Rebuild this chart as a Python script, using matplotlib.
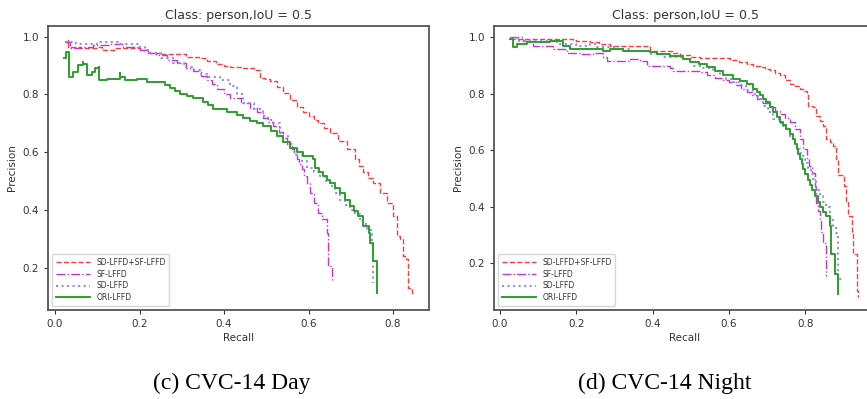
import matplotlib
matplotlib.use("Agg")
import matplotlib.pyplot as plt

# ---------------- Data: CVC-14 Day ----------------
day_both_r = [0.024, 0.03, 0.03, 0.035, 0.06, 0.10, 0.11, 0.14, 0.20, 0.22, 0.25, 0.28, 0.31, 0.34, 0.36, 0.38,
              0.40, 0.414, 0.446, 0.47, 0.485, 0.497, 0.509, 0.525, 0.54, 0.556, 0.572, 0.586, 0.60, 0.612,
              0.623, 0.637, 0.651, 0.67, 0.69, 0.71, 0.72, 0.729, 0.741, 0.753, 0.77, 0.785, 0.80, 0.809,
              0.816, 0.824, 0.83, 0.835, 0.844]
day_both_p = [0.98, 0.99, 0.965, 0.965, 0.96, 0.965, 0.955, 0.96, 0.955, 0.945, 0.94, 0.94, 0.93, 0.925, 0.915, 0.905,
              0.90, 0.895, 0.89, 0.885, 0.858, 0.852, 0.846, 0.826, 0.806, 0.782, 0.757, 0.74, 0.725, 0.712,
              0.70, 0.684, 0.667, 0.64, 0.61, 0.575, 0.552, 0.53, 0.51, 0.494, 0.46, 0.424, 0.38, 0.31,
              0.30, 0.24, 0.23, 0.13, 0.11]

day_sf_r = [0.024, 0.035, 0.06, 0.09, 0.13, 0.16, 0.20, 0.22, 0.24, 0.265, 0.288, 0.31, 0.327, 0.345, 0.36,
            0.372, 0.383, 0.40, 0.414, 0.44, 0.462, 0.478, 0.493, 0.505, 0.517, 0.53, 0.54, 0.55, 0.56, 0.566,
            0.572, 0.578, 0.584, 0.59, 0.596, 0.604, 0.614, 0.623, 0.631, 0.643, 0.647, 0.655]
day_sf_p = [0.98, 0.96, 0.965, 0.97, 0.975, 0.965, 0.955, 0.945, 0.935, 0.92, 0.908, 0.893, 0.88, 0.865, 0.85,
            0.835, 0.82, 0.80, 0.788, 0.77, 0.754, 0.738, 0.72, 0.705, 0.69, 0.67, 0.65, 0.63, 0.61, 0.592,
            0.575, 0.558, 0.54, 0.517, 0.494, 0.459, 0.425, 0.39, 0.37, 0.32, 0.205, 0.158]

day_sd_r = [0.024, 0.05, 0.10, 0.15, 0.20, 0.213, 0.225, 0.25, 0.28, 0.305, 0.327, 0.345, 0.36, 0.39, 0.414,
            0.43, 0.446, 0.47, 0.493, 0.505, 0.517, 0.533, 0.552, 0.562, 0.572, 0.584, 0.596, 0.612, 0.627,
            0.64, 0.651, 0.663, 0.675, 0.687, 0.698, 0.71, 0.722, 0.73, 0.738, 0.75, 0.753]
day_sd_p = [0.98, 0.975, 0.98, 0.975, 0.965, 0.955, 0.942, 0.925, 0.908, 0.895, 0.885, 0.872, 0.86, 0.85, 0.83,
            0.80, 0.77, 0.75, 0.725, 0.712, 0.70, 0.656, 0.63, 0.61, 0.59, 0.568, 0.545, 0.53, 0.517,
            0.50, 0.482, 0.46, 0.436, 0.418, 0.40, 0.385, 0.37, 0.35, 0.332, 0.29, 0.147]

day_ori_r = [0.022, 0.025, 0.03, 0.034, 0.034, 0.043, 0.055, 0.067, 0.067, 0.075, 0.087, 0.095, 0.105, 0.105,
             0.122, 0.142, 0.154, 0.154, 0.166, 0.193, 0.217, 0.248, 0.26, 0.272, 0.284, 0.296, 0.312, 0.327,
             0.351, 0.363, 0.375, 0.406, 0.43, 0.446, 0.462, 0.478, 0.493, 0.51, 0.525, 0.54, 0.556, 0.572,
             0.588, 0.611, 0.615, 0.625, 0.635, 0.643, 0.651, 0.663, 0.675, 0.687, 0.698, 0.708, 0.718,
             0.73, 0.742, 0.746, 0.753, 0.761, 0.761]
day_ori_p = [0.925, 0.948, 0.948, 0.948, 0.861, 0.879, 0.902, 0.913, 0.905, 0.867, 0.879, 0.89, 0.896, 0.85,
             0.855, 0.855, 0.873, 0.862, 0.85, 0.855, 0.844, 0.844, 0.832, 0.821, 0.812, 0.803, 0.795, 0.786,
             0.775, 0.763, 0.751, 0.74, 0.728, 0.718, 0.708, 0.70, 0.69, 0.673, 0.656, 0.635, 0.615, 0.60,
             0.586, 0.575, 0.545, 0.53, 0.517, 0.505, 0.494, 0.476, 0.459, 0.436, 0.413, 0.395, 0.378,
             0.343, 0.32, 0.285, 0.222, 0.222, 0.112]

# ---------------- Data: CVC-14 Night ----------------
night_both_r = [0.026, 0.19, 0.20, 0.236, 0.26, 0.288, 0.384, 0.393, 0.43, 0.454, 0.471, 0.50, 0.524, 0.55,
                0.576, 0.602, 0.625, 0.646, 0.663, 0.68, 0.694, 0.707, 0.72, 0.733, 0.746, 0.76, 0.772, 0.785,
                0.795, 0.803, 0.807, 0.82, 0.829, 0.838, 0.846, 0.855, 0.864, 0.872, 0.881, 0.886, 0.90,
                0.906, 0.912, 0.921, 0.925, 0.934, 0.938]
night_both_p = [0.994, 0.99, 0.988, 0.982, 0.976, 0.97, 0.97, 0.952, 0.95, 0.946, 0.937, 0.932, 0.925, 0.925,
                0.925, 0.92, 0.914, 0.907, 0.90, 0.895, 0.889, 0.883, 0.874, 0.865, 0.85, 0.836, 0.827, 0.818,
                0.81, 0.80, 0.758, 0.752, 0.722, 0.705, 0.687, 0.64, 0.628, 0.616, 0.568, 0.514, 0.473,
                0.42, 0.366, 0.306, 0.234, 0.10, 0.08]

night_sf_r = [0.026, 0.061, 0.087, 0.14, 0.175, 0.209, 0.244, 0.27, 0.279, 0.34, 0.366, 0.384, 0.445,
              0.454, 0.524, 0.541, 0.562, 0.584, 0.60, 0.619, 0.632, 0.646, 0.66, 0.672, 0.69, 0.707, 0.72,
              0.733, 0.746, 0.759, 0.772, 0.785, 0.794, 0.803, 0.81, 0.816, 0.825, 0.829, 0.834, 0.838,
              0.842, 0.846, 0.855]
night_sf_p = [1.0, 0.988, 0.97, 0.958, 0.946, 0.94, 0.946, 0.929, 0.917, 0.923, 0.917, 0.899, 0.893,
              0.881, 0.878, 0.866, 0.857, 0.848, 0.84, 0.83, 0.818, 0.806, 0.794, 0.782, 0.767, 0.752, 0.74,
              0.729, 0.715, 0.70, 0.676, 0.64, 0.605, 0.568, 0.544, 0.52, 0.473, 0.414, 0.384, 0.354,
              0.31, 0.27, 0.155]

night_sd_r = [0.026, 0.044, 0.079, 0.148, 0.20, 0.236, 0.253, 0.305, 0.34, 0.393, 0.428, 0.48, 0.506,
              0.53, 0.558, 0.575, 0.593, 0.61, 0.628, 0.645, 0.663, 0.676, 0.689, 0.702, 0.716, 0.73, 0.742,
              0.75, 0.759, 0.768, 0.777, 0.785, 0.794, 0.8, 0.807, 0.814, 0.82, 0.829, 0.838, 0.846, 0.855,
              0.864, 0.872, 0.881, 0.886, 0.899]
night_sd_p = [0.996, 0.988, 0.988, 0.976, 0.97, 0.976, 0.964, 0.958, 0.952, 0.94, 0.929, 0.923, 0.90,
              0.89, 0.88, 0.867, 0.854, 0.842, 0.83, 0.815, 0.80, 0.78, 0.758, 0.735, 0.71, 0.698, 0.687,
              0.67, 0.652, 0.628, 0.605, 0.592, 0.58, 0.556, 0.533, 0.515, 0.497, 0.46, 0.437, 0.418, 0.40,
              0.354, 0.33, 0.306, 0.143, 0.143]

night_ori_r = [0.026, 0.035, 0.044, 0.07, 0.131, 0.166, 0.183, 0.27, 0.288, 0.323, 0.393, 0.41, 0.445,
               0.48, 0.497, 0.52, 0.541, 0.562, 0.584, 0.61, 0.628, 0.646, 0.663, 0.672, 0.68, 0.69, 0.698,
               0.707, 0.716, 0.725, 0.733, 0.742, 0.75, 0.76, 0.768, 0.773, 0.777, 0.781, 0.785, 0.79,
               0.794, 0.8, 0.807, 0.812, 0.816, 0.825, 0.832, 0.838, 0.846, 0.855, 0.864, 0.868, 0.877, 0.886]
night_ori_p = [0.994, 0.964, 0.976, 0.982, 0.988, 0.97, 0.958, 0.952, 0.958, 0.952, 0.949, 0.94, 0.935,
               0.923, 0.913, 0.904, 0.895, 0.88, 0.866, 0.854, 0.845, 0.836, 0.818, 0.806, 0.795, 0.782, 0.77,
               0.752, 0.735, 0.718, 0.70, 0.688, 0.676, 0.658, 0.64, 0.622, 0.605, 0.586, 0.568, 0.55,
               0.533, 0.515, 0.496, 0.478, 0.46, 0.437, 0.418, 0.40, 0.383, 0.366, 0.33, 0.234, 0.163, 0.092]

labels = ["SD-LFFD+SF-LFFD", "SF-LFFD", "SD-LFFD", "ORI-LFFD"]
title_text = "Class: person,IoU = 0.5"
captions = ["(c) CVC-14 Day", "(d) CVC-14 Night"]

styles = [
    dict(color="#ff3b3b", linestyle="--", linewidth=1.0),
    dict(color="#cc33cc", linestyle="-.", linewidth=1.0),
    dict(color="#8c8cff", linestyle=":", linewidth=1.5),
    dict(color="#2e9e2e", linestyle="-", linewidth=1.4),
]

fig = plt.figure(figsize=(8.67, 3.99), dpi=100)
ax1 = fig.add_axes([0.0554, 0.2243, 0.4394, 0.7105])
ax2 = fig.add_axes([0.5698, 0.2243, 0.4406, 0.7105])

datasets = [
    (ax1, [(day_both_r, day_both_p), (day_sf_r, day_sf_p), (day_sd_r, day_sd_p), (day_ori_r, day_ori_p)],
     (-0.0166, 0.885), (0.055, 1.037)),
    (ax2, [(night_both_r, night_both_p), (night_sf_r, night_sf_p), (night_sd_r, night_sd_p),
           (night_ori_r, night_ori_p)],
     (-0.0157, 0.985), (0.036, 1.04)),
]

for ax, series, xl, yl in datasets:
    for (r, p), lab, st in zip(series, labels, styles):
        ax.plot(r, p, drawstyle="steps-post", label=lab, **st)
    ax.set_xlim(*xl)
    ax.set_ylim(*yl)
    ax.set_xticks([0.0, 0.2, 0.4, 0.6, 0.8])
    ax.set_yticks([0.2, 0.4, 0.6, 0.8, 1.0])
    ax.tick_params(labelsize=7.5, colors="#333333", length=3, width=0.8)
    ax.set_xlabel("Recall", fontsize=7.5, color="#333333", labelpad=3)
    ax.set_ylabel("Precision", fontsize=7.5, color="#333333", labelpad=4)
    ax.set_title(title_text, fontsize=9, color="#333333", pad=5)
    for sp in ax.spines.values():
        sp.set_color("#555555")
        sp.set_linewidth(1.3)
    leg = ax.legend(loc="lower left", fontsize=5.5, handlelength=4.5, borderpad=0.5,
                    labelspacing=0.35, framealpha=0.8)
    for t in leg.get_texts():
        t.set_color("#333333")

fig.text(0.2676, 0.04, captions[0], ha="center", va="center", fontsize=17,
         family="Liberation Serif")
fig.text(0.767, 0.04, captions[1], ha="center", va="center", fontsize=17,
         family="Liberation Serif")

fig.savefig("out.png", dpi=100)
